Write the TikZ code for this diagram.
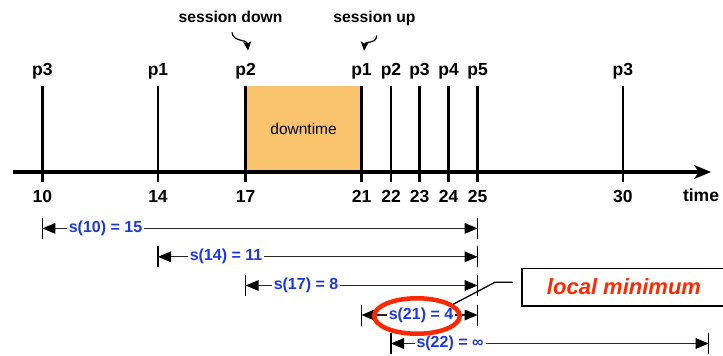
\documentclass[tikz,border=0pt]{standalone}
\usepackage{fontspec}
\setmainfont{Liberation Sans}
\usetikzlibrary{arrows.meta,shapes.geometric}
\definecolor{dimblue}{RGB}{30,55,230}
\definecolor{lmred}{RGB}{255,40,0}
\definecolor{downfill}{RGB}{250,196,110}
\begin{document}
\begin{tikzpicture}[x=1pt,y=-1pt,
  plabel/.style={font=\fontsize{17.5}{20}\selectfont\bfseries, anchor=base, inner sep=0pt},
  sesslabel/.style={font=\fontsize{15.7}{18}\selectfont\bfseries, anchor=base, inner sep=0pt},
  event/.style={line width=2.6pt},
  sessarrow/.style={line width=1.2pt},
  dimline/.style={line width=1.3pt, draw=black!85},
  dimtext/.style={font=\fontsize{16}{19}\selectfont\bfseries, text=dimblue, fill=white, inner xsep=2pt, inner ysep=1pt},
  endtick/.style={line width=1.2pt},
  headfill/.style={fill=black},
]
\useasboundingbox (0,0) rectangle (723,356);

% downtime box
\node[fill=downfill, minimum width=115.8pt, minimum height=86pt, inner sep=0pt,
      font=\fontsize{15.5}{18}\selectfont] (dt) at (303.6,129) {downtime};

% event lines
\foreach \n/\x in {10/42.4,14/158,17/245.7,21/361.5,22/391,23/419.5,24/448.6,25/477.6,30/622.9}{
  \coordinate (top\n) at (\x,86);
  \coordinate (bot\n) at (\x,182);
  \draw[event] (top\n) -- (bot\n);
  \node[plabel] (num\n) at (\x,202) {\n};
}
% packet labels
\node[plabel] (p10) at (42.4,75.5) {p3};
\node[plabel] (p14) at (158,75.5) {p1};
\node[plabel] (p17) at (245.7,75.5) {p2};
\node[plabel] (p21) at (361.5,75.5) {p1};
\node[plabel] (p22) at (391,75.5) {p2};
\node[plabel] (p23) at (419.5,75.5) {p3};
\node[plabel] (p24) at (448.6,75.5) {p4};
\node[plabel] (p25) at (477.6,75.5) {p5};
\node[plabel] (p30) at (622.9,75.5) {p3};

% axis
\coordinate (axstart) at (13,172);
\coordinate (axend) at (711,172);
\draw[line width=3.2pt, -{Stealth[length=17pt,width=14pt,inset=5pt]}] (axstart) -- (axend);
\node[plabel] (time) at (701,201) {time};

% session labels
\node[sesslabel] (sd) at (230.5,22.7) {session down};
\node[sesslabel] (su) at (374.5,22.7) {session up};
\draw[sessarrow, -{Stealth[length=9pt,width=8pt,inset=2pt]}] ([xshift=1.5pt,yshift=-9.3pt]sd.south) .. controls +(1,10) and +(-1,-11.7) .. ([xshift=2.3pt,yshift=12.5pt]p17.north);
\draw[sessarrow, -{Stealth[length=9pt,width=8pt,inset=2pt]}] ([xshift=2.2pt,yshift=-9.3pt]su.south) .. controls +(-0.7,10) and +(1,-10.7) .. ([xshift=2.5pt,yshift=12.5pt]p21.north);

% dimension lines
\foreach \nm/\xa/\xb/\yy in {a/42.4/477.6/228.4, b/158/477.6/256.8, c/245.7/477.6/285.5, d/361.5/477.6/315, e/391/708.6/343.5}{
  \coordinate (\nm L) at (\xa,\yy);
  \coordinate (\nm R) at (\xb,\yy);
  \draw[endtick] ([yshift=10.5pt]\nm L) -- ([yshift=-10.5pt]\nm L);
  \draw[endtick] ([yshift=10.5pt]\nm R) -- ([yshift=-10.5pt]\nm R);
  \draw[dimline] ([xshift=10pt]\nm L) -- ([xshift=-10pt]\nm R);
  \fill[headfill] (\nm L) -- ([xshift=13pt,yshift=5.5pt]\nm L) -- ([xshift=13pt,yshift=-5.5pt]\nm L) -- cycle;
  \fill[headfill] (\nm R) -- ([xshift=-13pt,yshift=5.5pt]\nm R) -- ([xshift=-13pt,yshift=-5.5pt]\nm R) -- cycle;
}
\node[dimtext] (s10) at (105.5,228.4) {s(10) = 15};
\node[dimtext] (s14) at (226,256.8) {s(14) = 11};
\node[dimtext] (s17) at (306,285.5) {s(17) = 8};
\node[dimtext] (s21) at (421,315) {s(21) = 4};
\node[dimtext] (s22) at (450,343.5) {s(22) = ∞};

% local minimum
\node[ellipse, draw=lmred, line width=4.5pt, minimum width=85.5pt, minimum height=35.5pt, inner sep=0pt] (ell) at (417,316) {};
\node[draw, line width=1.5pt, minimum width=204pt, minimum height=37.5pt, inner sep=0pt,
      font=\fontsize{22}{25}\selectfont\bfseries\itshape, text=lmred] (lm) at (624,287) {local minimum};
\coordinate (lmbend) at (495,282.3);
\coordinate (lmend) at (512.7,282.3);
\draw[line width=1.3pt] (ell.18) -- (lmbend) -- (lmend);
\end{tikzpicture}
\end{document}
